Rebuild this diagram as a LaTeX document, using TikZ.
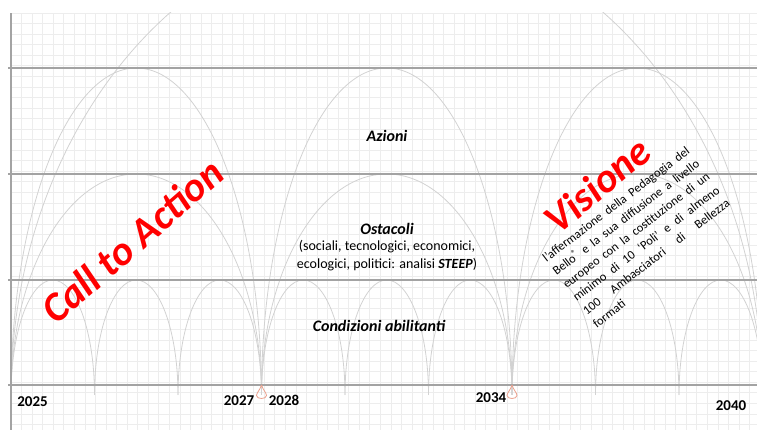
\documentclass[tikz,border=0pt]{standalone}
\usepackage{fontspec}
\setmainfont{Carlito}[BoldFont={Carlito Bold},ItalicFont={Carlito Italic},BoldItalicFont={Carlito Bold Italic}]

\definecolor{gridgray}{HTML}{EDEDED}
\definecolor{archgray}{HTML}{D2D2D2}
\definecolor{linegray}{HTML}{A3A3A3}
\definecolor{dropred}{HTML}{EBA08C}

\newcommand{\justline}[1]{\makebox[181pt][s]{#1}}

\tikzset{
	gridline/.style={draw=gridgray,line width=0.6pt},
	arch/.style={draw=archgray,line width=0.8pt},
	levelline/.style={draw=linegray,line width=2pt},
	drop/.style={draw=dropred,line width=0.8pt},
	year/.style={font=\fontsize{15}{18}\selectfont\bfseries},
	level/.style={font=\fontsize{16}{19}\selectfont\bfseries\itshape},
	note/.style={font=\fontsize{14}{17}\selectfont},
	bigred/.style={text=red,font=\fontsize{41}{48}\selectfont\bfseries\itshape}
}

\begin{document}
\begin{tikzpicture}[x=1pt,y=1pt,every path/.style={>=latex}]
	\useasboundingbox (0,0) rectangle (757,430);
	
	% draw background grid
	\foreach \x in {11,21.55,...,757}
		\draw[gridline] (\x,0) -- (\x,417);
	\foreach \y in {417,406.45,...,0}
		\draw[gridline] (11,\y) -- (757,\y);
	
	\begin{scope}
		\clip (0,0) rectangle (757,417);
		
		% draw small arches (condizioni abilitanti)
		\foreach \i in {0,...,8}
		{
			\draw[arch] ({11+83.5*\i},35) arc[start angle=180,end angle=0,x radius=41.75,y radius=115];
		}
		
		% draw middle and high arches (ostacoli, azioni)
		\foreach \i in {0,1,2}
		{
			\draw[arch] ({11+250.5*\i},35) arc[start angle=180,end angle=0,x radius=125.25,y radius=221];
			\draw[arch] ({11+250.5*\i},35) arc[start angle=180,end angle=0,x radius=125.25,y radius=327];
		}
		
		% draw the one arch from 2025 to 2040
		\draw[arch] (11,35) arc[start angle=180,end angle=0,x radius=375.75,y radius=468];
	\end{scope}
	
	% draw level lines and axis
	\foreach \y in {362,256,150,45}
		\draw[levelline] (8,\y) -- (757,\y);
	\draw[draw=linegray,line width=1.5pt] (11,0) -- (11,417);
	
	% draw drops under 2027 and 2034
	\foreach \c in {261.5,512}
		\draw[drop] (\c,45) .. controls (\c-1.5,40) and (\c-5,37) .. (\c-5,34.5) .. controls (\c-5,30.5) and (\c+5,30.5) .. (\c+5,34.5) .. controls (\c+5,37) and (\c+1.5,40) .. (\c,45);
	
	% level labels
	\node (azioni) at (387,294) [level] {Azioni};
	\node (ostacoli) at (387,201) [level] {Ostacoli};
	\node (steep1) at (387,183) [note] {(sociali, tecnologici, economici,};
	\node (steep2) at (387,165) [note] {ecologici, politici: analisi \textbf{\textit{STEEP}})};
	\node (condizioni) at (379,104) [level] {Condizioni abilitanti};
	
	% years
	\node (y2025) at (32.5,28) [year] {2025};
	\node (y2027) at (239,29) [year] {2027};
	\node (y2028) at (284,30) [year] {2028};
	\node (y2034) at (491,32) [year] {2034};
	\node (y2040) at (731,24) [year] {2040};
	
	% red titles
	\node (call) at (132,189) [bigred,rotate=41] {Call to Action};
	\node (visione) at (597,245) [bigred,rotate=40] {Visione};
	
	% vision text
	\node (visiontext) at (641,193) [rotate=37.4,align=left,inner sep=0pt,font=\fontsize{12.5}{16.5}\selectfont]
		{\justline{l’affermazione della Pedagogia del}\\
		 \justline{Bello\textsuperscript{®} e la sua diffusione a livello}\\
		 \justline{europeo con la costituzione di un}\\
		 \justline{minimo di 10 ‘Poli’ e di almeno}\\
		 \justline{100 Ambasciatori di Bellezza}\\
		 formati};
\end{tikzpicture}
\end{document}
